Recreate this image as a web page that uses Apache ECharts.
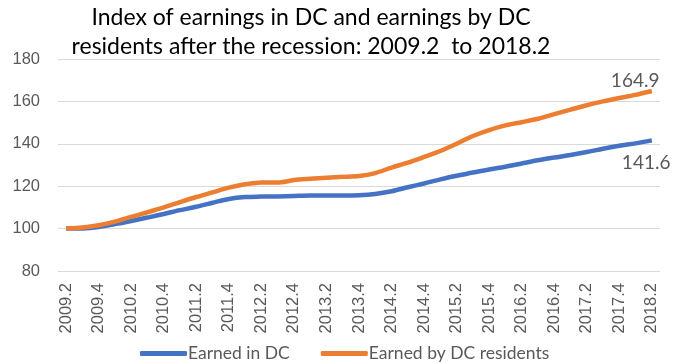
<!DOCTYPE html>
<html><head><meta charset="utf-8">
<script src="https://cdn.jsdelivr.net/npm/echarts@6/dist/echarts.min.js"></script>
<style>html,body{margin:0;padding:0;background:#fff}#c{width:686px;height:364px}</style>
</head><body><div id="c"></div>
<script>
var quarters = [];
(function(){ for (var y = 2009; y <= 2018; y++) for (var q = 1; q <= 4; q++) { if ((y === 2009 && q < 2) || (y === 2018 && q > 2)) continue; quarters.push(y + '.' + q); } })();
var earnedInDC = [100,100.1,100.8,102.1,103.6,105.2,106.9,108.7,110.3,112.2,114,114.9,115.1,115.2,115.4,115.6,115.6,115.6,115.7,116.3,117.6,119.5,121.3,123.2,124.9,126.5,127.9,129.2,130.7,132.2,133.5,134.7,136.1,137.7,139.1,140.2,141.6];
var earnedByResidents = [100,100.5,101.6,103.3,105.5,107.7,110,112.5,114.9,117.1,119.3,120.9,121.8,121.7,122.9,123.5,124,124.4,124.8,126.2,128.8,131.1,133.8,136.6,140,143.7,146.5,148.7,150.2,151.8,154,156.1,158.2,160,161.6,163.1,164.9];
var titleLines = ['Index of earnings in DC and earnings by DC', 'residents after the recession: 2009.2  to 2018.2'];
var yTicks = {min: 80, max: 180, interval: 20};

var chart = echarts.init(document.getElementById('c'));
var FONT = 'Lato, sans-serif';
function endLabel(off) {
  return {show: true, offset: off, color: '#595959', fontSize: 19, fontFamily: FONT,
    formatter: function(p){ return Number(p.value).toFixed(1); }};
}
chart.setOption({
  animation: false,
  graphic: [
    {type: 'text', x: 311, y: 6, style: {text: titleLines[0], fill: '#000', font: '23px ' + FONT, align: 'center', verticalAlign: 'top'}},
    {type: 'text', x: 311, y: 35, style: {text: titleLines[1], fill: '#000', font: '23px ' + FONT, align: 'center', verticalAlign: 'top'}}
  ],
  grid: {left: 58, right: 26, top: 59, bottom: 93},
  legend: {top: 339, left: 135, itemWidth: 47, itemHeight: 5, itemGap: 31, icon: 'roundRect',
    textStyle: {color: '#595959', fontSize: 17.5, lineHeight: 19, fontFamily: FONT, padding: [0,0,0,-4]},
    data: ['Earned in DC', 'Earned by DC residents']},
  xAxis: {type: 'category', data: quarters, boundaryGap: true,
    axisLine: {show: false}, axisTick: {show: false},
    axisLabel: {rotate: 90, interval: 1, color: '#595959', fontSize: 16.5, fontFamily: 'Arial, sans-serif', margin: 12}},
  yAxis: {type: 'value', min: yTicks.min, max: yTicks.max, interval: yTicks.interval,
    axisLine: {show: false}, axisTick: {show: false},
    axisLabel: {color: '#595959', fontSize: 16.5, fontFamily: 'Arial, sans-serif', margin: 18},
    splitLine: {lineStyle: {color: '#d9d9d9', width: 1}}},
  series: [
    {name: 'Earned in DC', type: 'line', data: earnedInDC, smooth: 0.3, symbol: 'none',
      lineStyle: {color: '#4472C4', width: 4.5}, itemStyle: {color: '#4472C4'},
      endLabel: endLabel([-38, 22])},
    {name: 'Earned by DC residents', type: 'line', data: earnedByResidents, smooth: 0.3, symbol: 'none',
      lineStyle: {color: '#ED7D31', width: 4.5}, itemStyle: {color: '#ED7D31'},
      endLabel: endLabel([-49, -10])}
  ]
});
</script></body></html>
